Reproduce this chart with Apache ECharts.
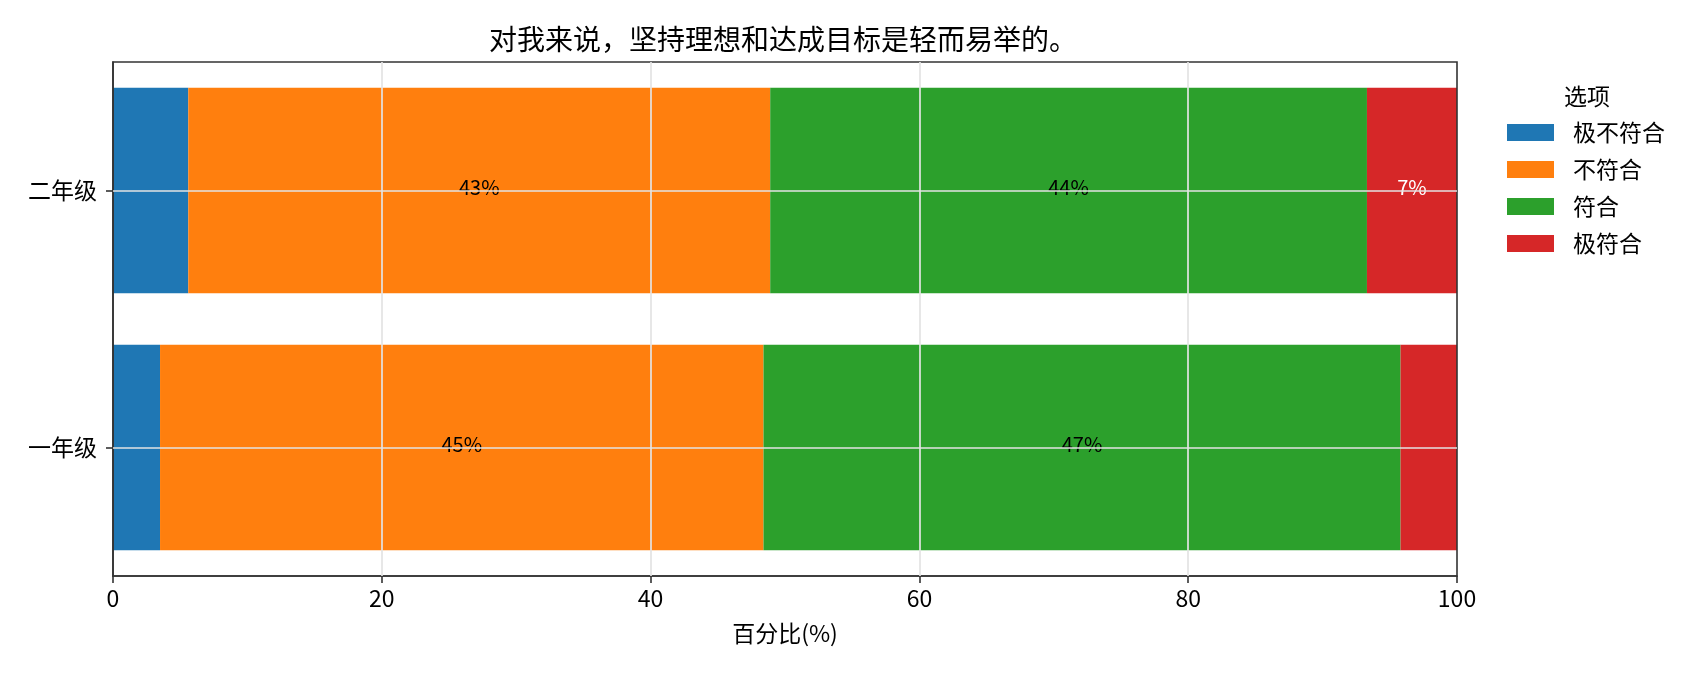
<!DOCTYPE html>
<html>
<head>
<meta charset="utf-8">
<script src="https://cdn.jsdelivr.net/npm/echarts@6/dist/echarts.min.js"></script>
<style>
html,body{margin:0;padding:0;background:#fff;}
#chart{width:1700px;height:680px;}
</style>
</head>
<body>
<div id="chart"></div>
<script>
const titleText = '对我来说，坚持理想和达成目标是轻而易举的。';
const legendTitle = '选项';
const xAxisName = '百分比(%)';
const categories = ['一年级', '二年级'];
const seriesNames = ['极不符合', '不符合', '符合', '极符合'];
const valuesJiBuFuHe = [3.5, 5.6];
const valuesBuFuHe = [44.9, 43.3];
const valuesFuHe = [47.4, 44.4];
const valuesJiFuHe = [4.2, 6.7];
const xTicks = [0, 20, 40, 60, 80, 100];

const colors = ['#1f77b4', '#ff7f0e', '#2ca02c', '#d62728'];
const labelColors = ['#000', '#000', '#000', '#fff'];
const allValues = [valuesJiBuFuHe, valuesBuFuHe, valuesFuHe, valuesJiFuHe];
const FONT = '"Noto Sans CJK SC", "Noto Sans", sans-serif';

const gridLineData = xTicks.slice(1, -1).map(v => ({ xAxis: v }))
  .concat(categories.map(c => ({ yAxis: c })));

const series = seriesNames.map((name, i) => {
  const s = {
    name: name,
    type: 'bar',
    stack: 'total',
    barWidth: '80%',
    data: allValues[i],
    itemStyle: { color: colors[i] },
    label: {
      show: true,
      position: 'inside',
      offset: [0, -3],
      color: labelColors[i],
      fontSize: 20,
      fontFamily: FONT,
      formatter: p => (p.value >= 6 ? Math.round(p.value) + '%' : '')
    },
    emphasis: { disabled: true }
  };
  if (i === seriesNames.length - 1) {
    s.markLine = {
      silent: true,
      symbol: 'none',
      label: { show: false },
      lineStyle: { color: '#e3e3e3', width: 1.7, type: 'solid' },
      emphasis: { disabled: true },
      animation: false,
      data: gridLineData
    };
  }
  return s;
});

const chart = echarts.init(document.getElementById('chart'));
chart.setOption({
  animation: false,
  backgroundColor: '#fff',
  textStyle: { fontFamily: FONT },
  title: [
    {
      text: titleText,
      left: 783,
      top: 25,
      textAlign: 'center',
      padding: 0,
      textStyle: { fontSize: 28, fontWeight: 'normal', color: '#000', fontFamily: FONT }
    },
    {
      text: legendTitle,
      left: 1587,
      top: 85,
      textAlign: 'center',
      padding: 0,
      textStyle: { fontSize: 23, fontWeight: 'normal', color: '#000', fontFamily: FONT }
    }
  ],
  legend: {
    data: seriesNames,
    orient: 'vertical',
    left: 1507,
    top: 121,
    padding: 0,
    itemWidth: 47,
    itemHeight: 17,
    itemGap: 14,
    icon: 'rect',
    selectedMode: false,
    textStyle: { fontSize: 23, color: '#000', fontFamily: FONT, lineHeight: 23, padding: [0, 0, 0, 14] }
  },
  grid: {
    left: 113,
    right: 243,
    top: 62,
    bottom: 104,
    show: true,
    z: 3,
    backgroundColor: 'transparent',
    borderColor: '#333',
    borderWidth: 1.6,
    outerBoundsMode: 'none',
    containLabel: false
  },
  xAxis: {
    type: 'value',
    min: 0,
    max: 100,
    interval: 20,
    z: 3,
    name: xAxisName,
    nameLocation: 'middle',
    nameGap: 46,
    nameTextStyle: { fontSize: 23, color: '#000', fontFamily: FONT },
    axisLine: { show: true, lineStyle: { color: '#333', width: 1.6 } },
    axisTick: { show: true, length: 7, lineStyle: { color: '#333', width: 1.6 } },
    axisLabel: { fontSize: 23, color: '#000', margin: 11, fontFamily: FONT },
    splitLine: { show: false }
  },
  yAxis: {
    type: 'category',
    data: categories,
    z: 3,
    axisLine: { show: true, lineStyle: { color: '#333', width: 1.6 } },
    axisTick: { show: true, length: 7, alignWithLabel: true, lineStyle: { color: '#333', width: 1.6 } },
    axisLabel: { fontSize: 23, color: '#000', margin: 16, fontFamily: FONT },
    splitLine: { show: false }
  },
  series: series
});
</script>
</body>
</html>
